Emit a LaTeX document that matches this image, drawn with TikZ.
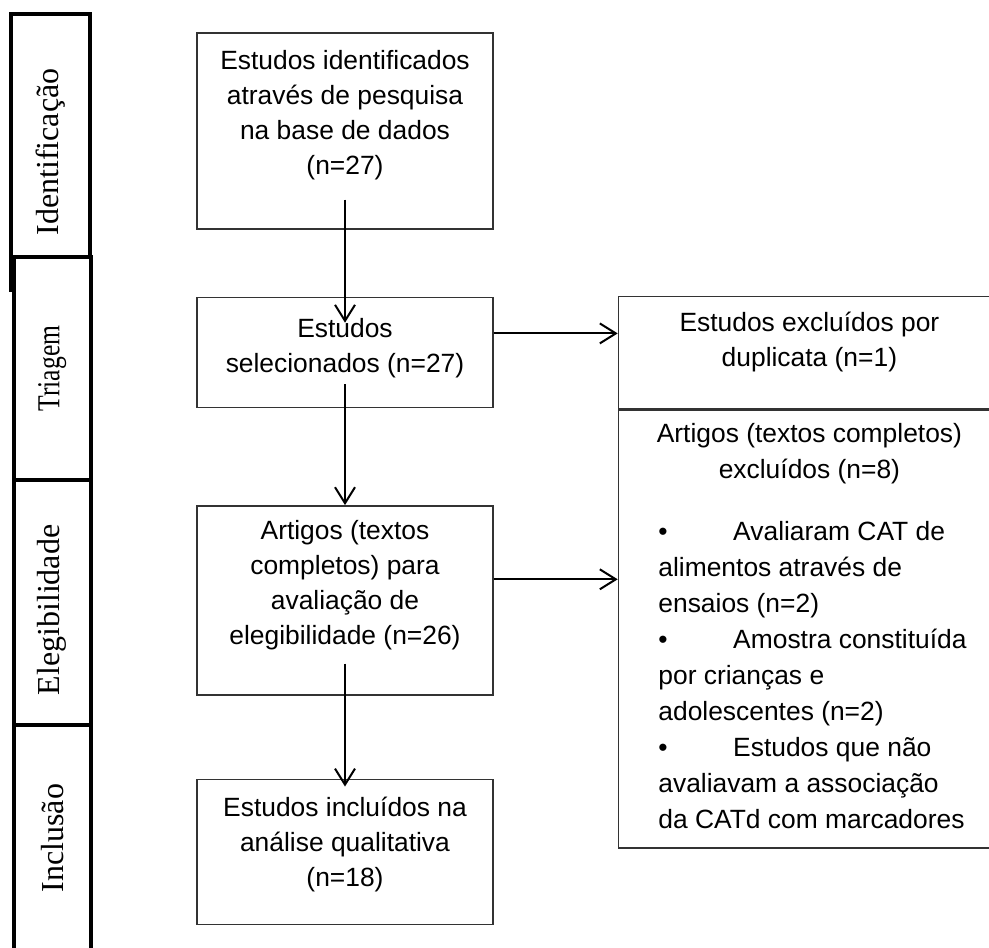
\documentclass[tikz,border=0pt]{standalone}
\usepackage{fontspec}
\setmainfont{Liberation Sans}
\newfontfamily\phasefont{Liberation Serif}
\usetikzlibrary{positioning,arrows.meta,calc}
\newcommand{\pad}[1]{\rule[-#1]{0pt}{0pt}}

\begin{document}
\begin{tikzpicture}[x=0.5pt,y=-0.5pt,
    box/.style={draw=black!80,line width=0.7pt,minimum width=148pt,inner sep=0pt,
        align=center,font=\fontsize{13.2}{17.5}\selectfont},
    phase/.style={draw,line width=2pt,fill=white,rotate=90,inner sep=0pt,
        font=\phasefont\fontsize{16}{18}\selectfont},
    arr/.style={line width=1pt,-{Straight Barb[length=8pt,width=10pt]}}]
        \useasboundingbox (0,0) rectangle (989,947);

        %phases
        \begin{scope}
            \node[phase,minimum width=138pt,minimum height=39.25pt] (idf) at (50.25,152) {Identificação};
            \node[phase,minimum width=111.5pt,minimum height=38.25pt] (tri) at (52.25,368.5) {\scalebox{0.8}[1]{Triagem}};
            \node[phase,minimum width=130pt,minimum height=38.25pt] (eleg) at (52.25,610) {Elegibilidade};
            \node[phase,minimum width=113pt,minimum height=38.25pt] (inc) at (52.25,838) {Inclusão};
        \end{scope}

        %boxes
        \node[box,minimum height=98pt] (found) at (345,131) {Estudos identificados\\através de pesquisa\\na base de dados\\(n=27)\pad{19pt}};
        \node[box,minimum height=55pt,below=33.5pt of found] (sel) {Estudos\\selecionados (n=27)\pad{7.3pt}};
        \node[box,minimum height=94.5pt,below=48.5pt of sel] (elig) {Artigos (textos\\completos) para\\avaliação de\\elegibilidade (n=26)\pad{17.8pt}};
        \node[box,minimum height=72.5pt,below=41.5pt of elig] (qual) {Estudos incluídos na\\análise qualitativa\\(n=18)\pad{10.3pt}};

        %excluded
        \node[box,minimum width=191pt,minimum height=56pt,right=62pt of sel] (dup) {Estudos excluídos por\\duplicata (n=1)\pad{13.3pt}};
        \node[box,minimum width=191pt,minimum height=219pt,below=0pt of dup] (full) {%
            \begin{minipage}{164pt}
            \fontsize{13.2}{18}\selectfont
            \raggedright\hyphenpenalty=10000 \leftskip=6.5pt
            {\centering Artigos (textos completos)\\excluídos (n=8)\par}
            \vspace{13pt}
            \textbullet\hspace{32.8pt}Avaliaram CAT de\\
            alimentos através de\\
            ensaios (n=2)\\
            \textbullet\hspace{32.8pt}Amostra constituída\\
            por crianças e\\
            adolescentes (n=2)\\
            \textbullet\hspace{32.8pt}Estudos que não\\
            avaliavam a associação\\
            da CATd com marcadores\pad{3pt}
            \end{minipage}};

        %arrows
        \draw[arr] ([yshift=15pt]found.south) -- ([yshift=-13pt]sel.north);
        \draw[arr] ([yshift=12pt]sel.south) -- (elig.north);
        \draw[arr] ([yshift=16pt]elig.south) -- ([yshift=-4pt]qual.north);
        \draw[arr] ([yshift=9.5pt]sel.east) -- ([yshift=9.5pt]dup.west);
        \coordinate (h2) at ([yshift=10.5pt]elig.east);
        \draw[arr] (h2) -- (h2 -| full.west);
\end{tikzpicture}
\end{document}
